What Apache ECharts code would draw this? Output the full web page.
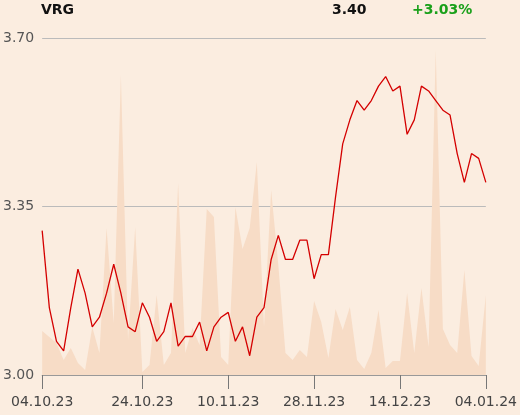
<!DOCTYPE html>
<html><head><meta charset="utf-8">
<script src="https://cdn.jsdelivr.net/npm/echarts@6/dist/echarts.min.js"></script>
<style>html,body{margin:0;padding:0;background:#fbede0;}#c{width:520px;height:415px;}</style>
</head><body><div id="c"></div>
<script>
const dates = ["04.10.23","05.10.23","06.10.23","09.10.23","10.10.23","11.10.23","12.10.23","13.10.23","16.10.23","17.10.23","18.10.23","19.10.23","20.10.23","23.10.23","24.10.23","25.10.23","26.10.23","27.10.23","30.10.23","31.10.23","02.11.23","03.11.23","06.11.23","07.11.23","08.11.23","09.11.23","10.11.23","13.11.23","14.11.23","15.11.23","16.11.23","17.11.23","20.11.23","21.11.23","22.11.23","23.11.23","24.11.23","27.11.23","28.11.23","29.11.23","30.11.23","01.12.23","04.12.23","05.12.23","06.12.23","07.12.23","08.12.23","11.12.23","12.12.23","13.12.23","14.12.23","15.12.23","18.12.23","19.12.23","20.12.23","21.12.23","22.12.23","27.12.23","28.12.23","29.12.23","02.01.24","03.01.24","04.01.24"];
const prices = [3.30,3.14,3.07,3.05,3.14,3.22,3.17,3.10,3.12,3.17,3.23,3.17,3.10,3.09,3.15,3.12,3.07,3.09,3.15,3.06,3.08,3.08,3.11,3.05,3.10,3.12,3.13,3.07,3.10,3.04,3.12,3.14,3.24,3.29,3.24,3.24,3.28,3.28,3.20,3.25,3.25,3.37,3.48,3.53,3.57,3.55,3.57,3.60,3.62,3.59,3.60,3.50,3.53,3.60,3.59,3.57,3.55,3.54,3.46,3.40,3.46,3.45,3.40];
const volumes = [44,38,32,15,27,12,5,48,22,147,52,300,35,148,3,10,80,10,22,192,22,47,30,166,158,18,10,168,126,147,213,48,185,110,22,15,25,18,74,53,17,66,45,68,15,6,22,65,7,14,14,82,22,87,28,325,46,30,22,105,19,9,80];
const tickLabels = ["04.10.23","24.10.23","10.11.23","28.11.23","14.12.23","04.01.24"];
const yTicks = [3.00,3.35,3.70];
const ticker = "VRG", lastPrice = "3.40", change = "+3.03%";

const chart = echarts.init(document.getElementById('c'), null, {renderer:'canvas'});
const showIdx = i => tickLabels.indexOf(dates[i]) >= 0;
const tStyle = {fontSize:14,fontWeight:'bold',color:'#111',fontFamily:'DejaVu Sans'};
chart.setOption({
  backgroundColor:'#fbede0',
  animation:false,
  title:[
    {text:ticker,left:41,top:3,padding:0,textStyle:tStyle},
    {text:lastPrice,left:332,top:3,padding:0,textStyle:tStyle},
    {text:change,left:412,top:3,padding:0,textStyle:Object.assign({},tStyle,{color:'#1aa01a'})}
  ],
  grid:{left:41,right:34,top:38,bottom:40},
  xAxis:{type:'category',data:dates,boundaryGap:false,
    axisLine:{lineStyle:{color:'#999',width:1}},
    axisTick:{interval:(i)=>showIdx(i),length:14,lineStyle:{color:'#777'}},
    axisLabel:{interval:(i)=>showIdx(i),fontSize:14,color:'#444',margin:20,fontFamily:'DejaVu Sans'},
    splitLine:{show:false}},
  yAxis:[
    {type:'value',min:yTicks[0],max:yTicks[2],interval:0.35,
     axisLine:{show:false},axisTick:{show:false},
     axisLabel:{fontSize:14,color:'#555',margin:8,fontFamily:'DejaVu Sans',formatter:v=>v.toFixed(2)},
     splitLine:{lineStyle:{color:'#bbb',width:1}}},
    {type:'value',min:0,max:337,show:false,splitLine:{show:false}}
  ],
  series:[
    {type:'line',yAxisIndex:1,data:volumes,symbol:'none',lineStyle:{width:0},
     areaStyle:{color:'#f7dcc6',opacity:1},z:1},
    {type:'line',yAxisIndex:0,data:prices,symbol:'none',lineStyle:{color:'#d40000',width:1.3},z:3}
  ]
});
</script></body></html>
